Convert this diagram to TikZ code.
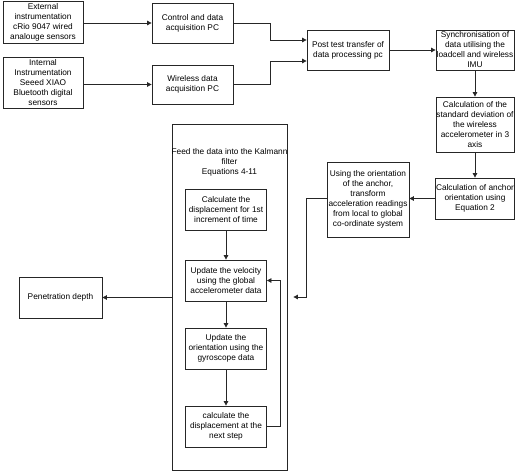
\documentclass[tikz,border=0pt]{standalone}
\usepackage{fontspec}
\setmainfont{Liberation Sans}
\usetikzlibrary{arrows.meta,calc}
\tikzset{%
  >={Triangle[width=4.5pt,length=4.5pt]},
  % Specifications for style of boxes and lines:
       base/.style = {rectangle, draw=black!85, line width=0.8pt,
                      minimum width=81pt, minimum height=41pt,
                      inner sep=0.5pt, text centered},
      outer/.style = {rectangle, draw=black!85, line width=0.8pt,
                      minimum width=115pt, minimum height=346pt},
       flow/.style = {->, draw=black!85, line width=0.8pt},
}

\begin{document}
\begin{tikzpicture}[x=1pt, y=-1pt,
    every node/.style={font=\fontsize{8.3}{10}\selectfont}, align=center]
  \useasboundingbox (0,0) rectangle (520,472);

  \node (ext)       [base, minimum width=80pt, minimum height=42pt] at (43,22)
        {External\\instrumentation\\cRio 9047 wired\\analouge sensors};
  \node (int)       [base, minimum width=80pt, minimum height=51pt] at (43,82.5)
        {Internal\\Instrumentation\\Seeed XIAO\\Bluetooth digital\\sensors};
  \node (ctrl)      [base, minimum height=40pt] at (192.5,23)  {Control and data\\acquisition PC};
  \node (wless)     [base, minimum height=39pt] at (192.5,84.5) {Wireless data\\acquisition PC};
  \node (post)      [base, minimum width=82pt, minimum height=40pt] at (348,50)
        {Post test transfer of\\data processing pc};
  \node (sync)      [base, minimum width=78pt, minimum height=40pt] at (475,50)
        {Synchronisation of\\data utilising the\\loadcell and wireless\\IMU};
  \node (stdev)     [base, minimum width=78pt, minimum height=55pt] at (475,124.5)
        {Calculation of the\\standard deviation of\\the wireless\\accelerometer in 3\\axis};
  \node (anchor)    [base, minimum width=78pt] at (475,198.5)
        {Calculation of anchor\\orientation using\\Equation 2};
  \node (transform) [base, minimum width=82pt, minimum height=75pt] at (368,199.5)
        {Using the orientation\\of the anchor,\\transform\\acceleration readings\\from local to global\\co-ordinate system};

  % Kalman filter frame
  \node (kalman)    [outer] at (229.5,297) {};
  \node (feed)      at (229.5,162) {Feed the data into the Kalmann\\filter\\Equations 4-11};
  \node (first)     [base] at (226,209.5) {Calculate the\\displacement for 1st\\increment of time};
  \node (vel)       [base] at (226,280.5) {Update the velocity\\using the global\\accelerometer data};
  \node (orient)    [base] at (226,348.5) {Update the\\orientation using the\\gyroscope data};
  \node (disp)      [base] at (226,426.5) {calculate the\\displacement at the\\next step};

  \node (depth)     [base, minimum width=83pt] at (60.5,297.5) {Penetration depth};

  \draw[flow] (ext.east |- ctrl.west) -- (ctrl.west);
  \draw[flow] (int.east |- wless.west) -- (wless.west);
  \draw[flow] (ctrl.east) -- ++(37,0) |- ($ (post.west) + (0,-10) $);
  \draw[flow] (wless.east) -- ++(37,0) |- ($ (post.west) + (0,11) $);
  \draw[flow] (post) -- (sync);
  \draw[flow] (sync) -- (stdev);
  \draw[flow] (stdev) -- (anchor);
  \draw[flow] (anchor.west) -- (transform.east |- anchor.west);
  \draw[flow, shorten >=6pt] (transform.west |- anchor.west)
      -- ++(-20,0)
      |- (kalman.east);
  \draw[flow] (kalman.west |- depth.east) -- (depth.east);

  \draw[flow] (first) -- (vel);
  \draw[flow] (vel) -- (orient);
  \draw[flow] (orient) -- (disp);
  \draw[flow] (disp.east) -- ++(13.5,0) |- (vel.east);

\end{tikzpicture}
\end{document}
